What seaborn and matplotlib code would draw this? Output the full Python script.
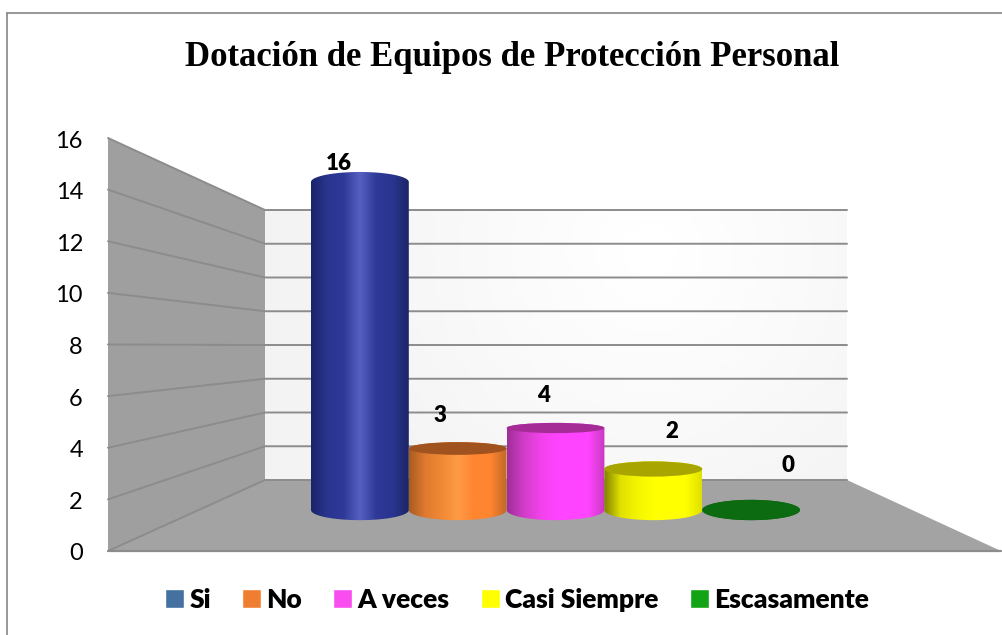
import numpy as np
import pandas as pd
import seaborn as sns
import matplotlib.pyplot as plt
from matplotlib.colors import LinearSegmentedColormap
from matplotlib.patches import Ellipse, Polygon
from matplotlib.path import Path

#chart values
categorias=["Si","No","A veces","Casi Siempre","Escasamente"]
valores=[16,3,4,2,0]
ticks=[0,2,4,6,8,10,12,14,16]

#colours
colores_leyenda=["#44719F","#F07E30","#F94DF0","#FFFF00","#12A316"]
colores_tapa=["#2A3590","#A0521F","#A52C96","#A8A400","#0C6A10"]
gradientes=[
    ["#1A2468","#2A3590","#2F3A98","#5560C0","#2F3A98","#2A3590","#1C2566"],
    ["#A85C20","#E07A30","#F08A35","#FF9B45","#FF8530","#FF8530","#BE6828"],
    ["#A02E98","#D03CC8","#F042E8","#FF44FF","#FF44FF","#FF44FF","#C83AC0"],
    ["#808000","#E0E000","#F4F400","#FFFF00","#FFFF00","#FFFF00","#E0E000"],
    ["#0C6A10","#0C6A10","#0C6A10","#0C6A10","#0C6A10","#0C6A10","#0C6A10"],
]

#offset of each value label from the top centre of its bar, in pixels
label_dx=[-21,-18,-12,19,37]
label_dy=[18,33,32,37,44]

W,H=1003,635
#pixel geometry of the fake 3d box
x_front,x_back,x_right,x_far=108,265,847,1001
y0_front,y16_front=551,138
y0_back,y16_back=480,210
#bars
bar_left,bar_right=311,800
bar_base,px_unit=510,20.5
y_ojo=345
k_tapa=0.0615

sns.set_style("white")
plt.rcParams["font.family"]=["Lato","DejaVu Sans"]

fig=plt.figure(figsize=(W/100,H/100),dpi=100)

#helper for placing axes in pixel coordinates
def pixel_axes(left,top,right,bottom):
    return fig.add_axes([left/W,1-bottom/H,(right-left)/W,(bottom-top)/H])

#background layer, drawn in image pixels
bg=pixel_axes(0,0,W,H)
bg.set_xlim(0,W)
bg.set_ylim(H,0)
bg.axis("off")

def front_y(v):
    return y0_front+(y16_front-y0_front)*v/16
def back_y(v):
    return y0_back+(y16_back-y0_back)*v/16

#back wall with soft gradient
gx,gy=np.meshgrid(np.linspace(x_back,x_right,120),np.linspace(y16_back,y0_back,60))
dist=np.clip(np.hypot(gx-650,gy-250)/350,0,1)
bg.imshow(1-0.05*dist,extent=(x_back,x_right,y0_back,y16_back),cmap="gray",vmin=0,vmax=1,aspect="auto",zorder=1)
bg.set_xlim(0,W)
bg.set_ylim(H,0)

#left wall and floor
bg.add_patch(Polygon([(x_front,front_y(16)),(x_back,back_y(16)),(x_back,back_y(0)),(x_front,front_y(0))],
                     facecolor="#9F9F9F",edgecolor="none",zorder=2))
bg.add_patch(Polygon([(x_front,front_y(0)),(x_back,back_y(0)),(x_right,back_y(0)),(x_far,front_y(0))],
                     facecolor="#A3A3A3",edgecolor="none",zorder=2))

#gridlines run along the left wall and then the back wall
for v in ticks:
    bg.plot([x_front,x_back,x_right],[front_y(v),back_y(v),back_y(v)],color="#8C8C8C",lw=1.4,zorder=3,solid_joinstyle="miter")
bg.plot([x_front,x_far],[front_y(0),front_y(0)],color="#8C8C8C",lw=1.6,zorder=3)

#outer frame
bg.plot([7,7],[H,13],color="#868686",lw=1.2,zorder=3)
bg.plot([7,W],[13,13],color="#868686",lw=1.2,zorder=3)

fig.text(512/W,1-58/H,"Dotación de Equipos de Protección Personal",family="Liberation Serif",
         fontweight="bold",fontsize=25,ha="center",va="center",color="black")

#value axis, only the tick labels are visible
ax_y=pixel_axes(x_front,y16_front+1,x_front+10,y0_front+1)
ax_y.patch.set_alpha(0)
ax_y.set_ylim(0,16)
ax_y.set_yticks(ticks)
ax_y.set_xticks([])
ax_y.tick_params(axis="y",length=0,pad=18,labelsize=17,labelcolor="black")
sns.despine(ax=ax_y,left=True,bottom=True)

#bars
df=pd.DataFrame({"categoria":categorias,"valor":valores})
ax=pixel_axes(bar_left,bar_base-17*px_unit,bar_right,bar_base+px_unit)
sns.barplot(data=df,x="categoria",y="valor",hue="categoria",palette=colores_leyenda,saturation=1,
            order=categorias,hue_order=categorias,dodge=False,width=1,legend=True,ax=ax)
ax.set_ylim(-1,17)

t=np.linspace(0,np.pi,60)
for i,cont in enumerate(ax.containers):
    bar=cont[0]
    x,w,v=bar.get_x(),bar.get_width(),bar.get_height()
    cx=x+w/2
    #ellipse half heights follow the distance to eye level
    top_px=bar_base-v*px_unit
    h_top=k_tapa*abs(top_px-y_ojo)/px_unit
    h_base=k_tapa*abs(bar_base-y_ojo)/px_unit
    #cylinder outline: lower arc of the base, upper arc of the top
    low=np.column_stack([cx-w/2*np.cos(t),-h_base*np.sin(t)])
    up=np.column_stack([cx+w/2*np.cos(t),v+h_top*np.sin(t)])
    outline=Path(np.vstack([low,up,low[:1]]),closed=True)
    cmap=LinearSegmentedColormap.from_list("cil"+str(i),gradientes[i])
    im=ax.imshow(np.linspace(0,1,256).reshape(1,-1),extent=(x,x+w,-1,v+1),cmap=cmap,
                 aspect="auto",interpolation="bilinear",zorder=2+i*0.1)
    im.set_clip_path(outline,ax.transData)
    #dark lid only when the top is seen from above
    if top_px>y_ojo:
        ax.add_patch(Ellipse((cx,v),w,2*h_top,facecolor=colores_tapa[i],edgecolor="none",zorder=2.05+i*0.1))
    ax.annotate(str(valores[i]),xy=(cx,v),xytext=(label_dx[i]*0.72,label_dy[i]*0.72),textcoords="offset points",
                ha="center",va="center",fontsize=16,fontweight="heavy",color="black",zorder=5,annotation_clip=False)
    bar.set_visible(False)

ax.set_xlim(-0.5,4.5)
ax.set_ylim(-1,17)
ax.axis("off")

sns.move_legend(ax,"center",bbox_to_anchor=(517/W,1-600/H),bbox_transform=fig.transFigure,ncol=5,frameon=False,title=None,
                prop={"family":"Lato","weight":"heavy","size":19},handlelength=0.72,handleheight=0.72,
                handletextpad=0.2,columnspacing=1.18,borderpad=0,labelcolor="black")

plt.savefig("out.png",dpi=100)
